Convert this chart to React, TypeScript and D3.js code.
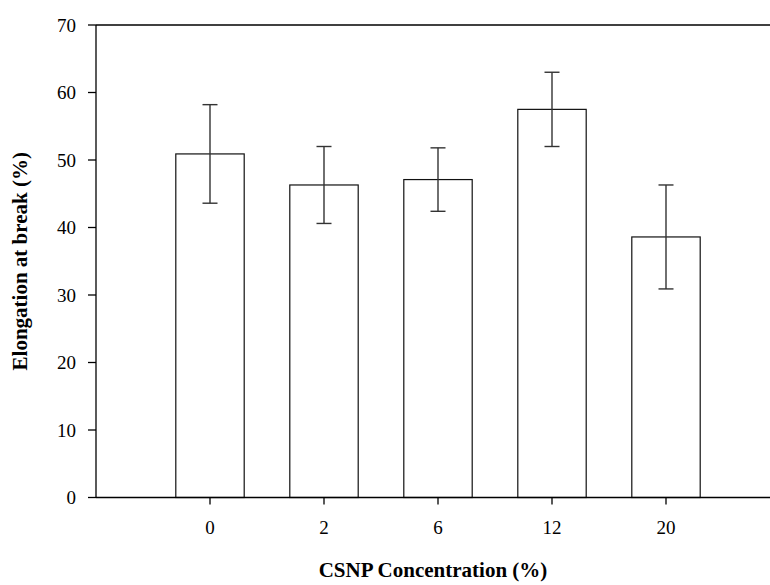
import React from "react";
import * as d3 from "d3";

const categories = ["0", "2", "6", "12", "20"];
const elongation = [50.9, 46.3, 47.1, 57.5, 38.6];
const errors = [7.3, 5.7, 4.7, 5.5, 7.7];
const yTicks = [0, 10, 20, 30, 40, 50, 60, 70];

const W = 770;
const H = 585;
const left = 96;
const top = 25;
const bottom = 497.5;

const App = () => {
  const x = d3.scalePoint<string>().domain(categories).range([210, 666]);
  const barW = x.step() * 0.6;
  const y = d3.scaleLinear().domain([0, 70]).range([bottom, top]);
  const font = "'Liberation Serif', 'Times New Roman', serif";

  return (
    <svg
      width={W}
      height={H}
      style={{ position: "absolute", left: 0, top: 0, background: "#fff" }}
      fontFamily={font}
    >
      {/* bars */}
      {categories.map((c, i) => (
        <rect
          key={c}
          x={x(c)! - barW / 2}
          y={y(elongation[i])}
          width={barW}
          height={bottom - y(elongation[i])}
          fill="#fff"
          stroke="#111"
          strokeWidth={1.2}
        />
      ))}

      {/* error bars */}
      {categories.map((c, i) => {
        const cx = x(c)!;
        const hi = y(elongation[i] + errors[i]);
        const lo = y(elongation[i] - errors[i]);
        return (
          <g key={"e" + c} stroke="#333" strokeWidth={1.4}>
            <line x1={cx} x2={cx} y1={hi} y2={lo} />
            <line x1={cx - 7.5} x2={cx + 7.5} y1={hi} y2={hi} />
            <line x1={cx - 7.5} x2={cx + 7.5} y1={lo} y2={lo} />
          </g>
        );
      })}

      {/* axes */}
      <g stroke="#000" strokeWidth={1.3}>
        <line x1={left} x2={left} y1={top} y2={bottom} />
        <line x1={left} x2={W} y1={bottom} y2={bottom} />
        <line x1={left} x2={W} y1={top} y2={top} />
        {yTicks.map((t) => (
          <line key={t} x1={left - 8} x2={left} y1={y(t)} y2={y(t)} />
        ))}
        {categories.map((c) => (
          <line key={c} x1={x(c)} x2={x(c)} y1={bottom} y2={bottom + 7} />
        ))}
      </g>

      {yTicks.map((t) => (
        <text
          key={t}
          x={76}
          y={y(t)}
          dy="0.35em"
          textAnchor="end"
          fontSize={19}
        >
          {t}
        </text>
      ))}
      {categories.map((c) => (
        <text key={c} x={x(c)} y={534} textAnchor="middle" fontSize={19}>
          {c}
        </text>
      ))}

      <text
        x={(left + W) / 2}
        y={577}
        textAnchor="middle"
        fontSize={21}
        fontWeight="bold"
      >
        CSNP Concentration (%)
      </text>
      <text
        transform={`translate(27,${(top + bottom) / 2}) rotate(-90)`}
        textAnchor="middle"
        fontSize={21}
        fontWeight="bold"
      >
        Elongation at break (%)
      </text>
    </svg>
  );
};

export default App;
